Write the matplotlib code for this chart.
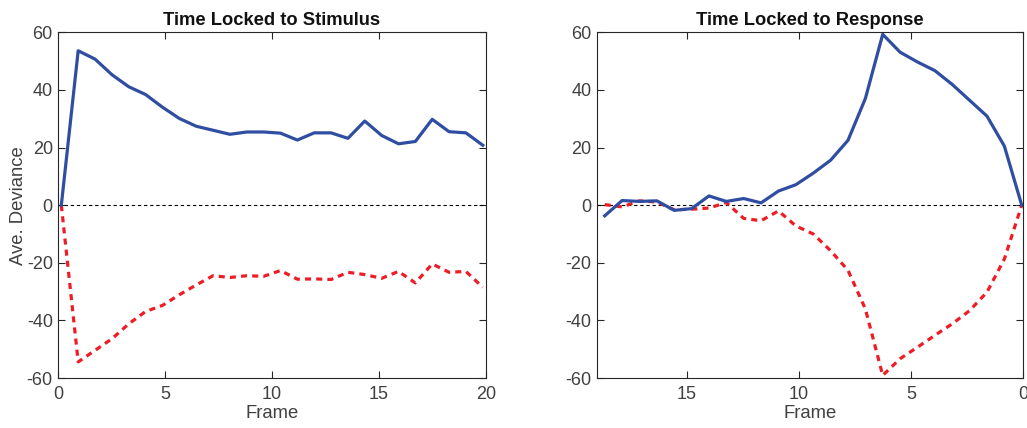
import numpy as np
import matplotlib.pyplot as plt

plt.rcParams['font.family'] = ['Liberation Sans', 'DejaVu Sans']
plt.rcParams['axes.unicode_minus'] = False

# frames for the two alignments
stim_frames = np.linspace(0.14, 19.86, 26)
resp_frames = np.linspace(18.67, 0.07, 25)

# average deviance, stimulus locked
stim_pos = [0, 53.6, 50.7, 45.3, 41.1, 38.4, 34.0, 30.1, 27.4, 26.0,
            24.6, 25.4, 25.4, 25.0, 22.6, 25.1, 25.1, 23.2, 29.2, 24.2,
            21.3, 22.1, 29.8, 25.5, 25.1, 20.8]
stim_neg = [0, -54.4, -50.4, -46.4, -41.2, -36.9, -34.8, -31.1, -27.7, -24.5,
            -25.1, -24.5, -24.7, -22.7, -25.7, -25.6, -25.8, -23.3, -24.1, -25.4,
            -23.0, -27.0, -20.4, -23.3, -23.0, -28.5]

# average deviance, response locked
resp_pos = [-3.7, 1.6, 1.3, 1.5, -1.8, -1.2, 3.2, 1.3, 2.3, 0.8,
            4.9, 7.1, 11.1, 15.6, 22.5, 37.0, 59.3, 53.1, 49.7, 46.7,
            41.9, 36.4, 30.9, 20.5, 0]
resp_neg = [0.2, -0.6, 1.5, 1.1, -1.6, -1.4, -1.0, 0.9, -4.6, -5.4,
            -2.0, -7.2, -10.0, -15.8, -22.6, -36.0, -59.1, -53.3, -49.3, -45.2,
            -41.2, -36.6, -30.2, -18.7, 0]

blue = '#2f4ea2'
red = '#ee1d25'
gray = '#404040'

fig = plt.figure(figsize=(10.27, 4.28), dpi=100)
ax1 = fig.add_axes([0.0568, 0.1168, 0.4162, 0.8077])
ax2 = fig.add_axes([0.5816, 0.1168, 0.4148, 0.8077])

def style(ax, title):
    ax.set_ylim(-60, 60)
    ax.set_yticks(np.arange(-60, 61, 20))
    ax.tick_params(direction='in', length=5, width=0.8, top=True, right=True,
                   colors='#262626', labelcolor=gray, labelsize=13, pad=4)
    ax.tick_params(axis='x', pad=6)
    for s in ax.spines.values():
        s.set_color('#262626')
        s.set_linewidth(0.8)
    ax.set_title(title, fontsize=13.2, fontweight='bold', color='#111111', pad=5)
    ax.set_xlabel('Frame', fontsize=13.3, color=gray, labelpad=1)

ax1.axhline(0, color='black', lw=0.8, dashes=(3, 2.5))
ax1.plot(stim_frames, stim_neg, color=red, lw=2.3, dashes=(1.9, 1.6))
ax1.plot(stim_frames, stim_pos, color=blue, lw=2.3)
ax1.set_xlim(0, 20)
ax1.set_xticks([0, 5, 10, 15, 20])
style(ax1, 'Time Locked to Stimulus')
ax1.set_ylabel('Ave. Deviance', fontsize=13.3, color=gray, labelpad=0)

ax2.axhline(0, color='black', lw=0.8, dashes=(3, 2.5))
ax2.plot(resp_frames, resp_neg, color=red, lw=2.3, dashes=(1.9, 1.6))
ax2.plot(resp_frames, resp_pos, color=blue, lw=2.3)
ax2.set_xlim(19, 0)
ax2.set_xticks([15, 10, 5, 0])
style(ax2, 'Time Locked to Response')

fig.savefig('out.png', dpi=100)
